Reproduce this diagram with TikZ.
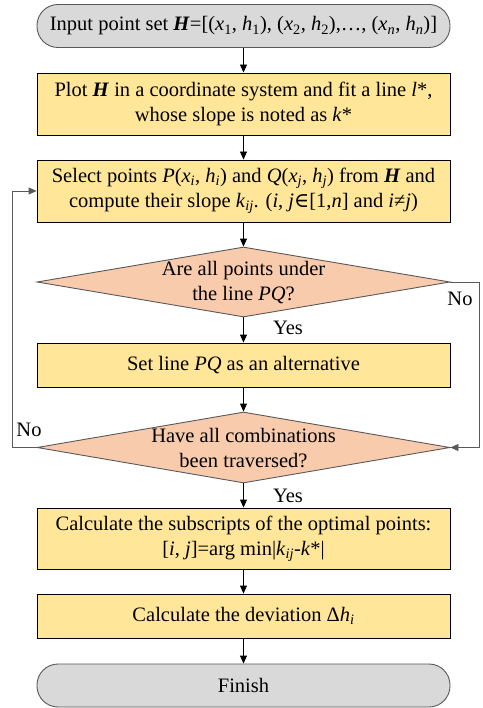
\documentclass[tikz,border=0pt]{standalone}
\usepackage{fontspec}
\setmainfont{Liberation Serif}
\newfontfamily\symfont{DejaVu Serif}
\usetikzlibrary{shapes.geometric,arrows.meta}
\definecolor{boxyellow}{HTML}{FFE699}
\definecolor{diapeach}{HTML}{F8CBAD}
\definecolor{termgray}{HTML}{D9D9D9}
\definecolor{edgegray}{HTML}{595959}
\newcommand{\bi}[1]{\textbf{\textit{#1}}}
\newcommand{\sbi}[1]{\textsubscript{\textit{#1}}}
\begin{document}
\begin{tikzpicture}[x=1pt,y=-1pt,
  font=\fontsize{20.5}{25}\selectfont,
  box/.style={draw=black, fill=boxyellow, minimum width=413pt, inner sep=0pt, align=center, line width=0.9pt},
  term/.style={draw=edgegray, fill=termgray, minimum width=413pt, minimum height=43pt, rounded corners=21pt, inner sep=0pt, align=center, line width=0.9pt},
  dia/.style={diamond, draw=edgegray, fill=diapeach, minimum width=413pt, inner sep=0pt, line width=0.9pt},
  txt/.style={align=center, inner sep=0pt},
  arr/.style={-{Triangle[length=8pt,width=7pt]}, line width=0.9pt},
  lbl/.style={inner sep=0pt}
]
\useasboundingbox (0,0) rectangle (482,708);

\node[term] (t1) at (243.5,26) {Input point set \bi{H}=[(\textit{x}\textsubscript{1}, \textit{h}\textsubscript{1}), (\textit{x}\textsubscript{2}, \textit{h}\textsubscript{2}),…, (\textit{x}\sbi{n}, \textit{h}\sbi{n})]};
\node[box, minimum height=62pt] (b2) at (243.5,104) {Plot \bi{H} in a coordinate system and fit a line \textit{l}*,\\ whose slope is noted as \textit{k}*};
\node[box, minimum height=62pt] (b3) at (243.5,191) {Select points \textit{P}(\textit{x}\sbi{i}, \textit{h}\sbi{i}) and \textit{Q}(\textit{x}\sbi{j}, \textit{h}\sbi{j}) from \bi{H} and\\ compute their slope \textit{k}\sbi{ij}. (\textit{i}, \textit{j}{\symfont ∈}[1,\textit{n}] and \textit{i}≠\textit{j})};
\node[dia, minimum height=70pt] (d1) at (243.5,282) {};
\node[txt] (d1t) at (243.5,283) {Are all points under\\ the line \textit{PQ}?};
\node[box, minimum height=44pt] (b4) at (243.5,365) {Set line \textit{PQ} as an alternative};
\node[dia, minimum height=71pt] (d2) at (243.5,447.5) {};
\node[txt] (d2t) at (243.5,448.5) {Have all combinations\\ been traversed?};
\node[box, minimum height=61pt] (b5) at (243.5,538.5) {Calculate the subscripts of the optimal points:\\ {[}\textit{i}, \textit{j}]=arg min|\textit{k}\sbi{ij}-\textit{k}*|};
\node[box, minimum height=44pt] (b6) at (243.5,616) {Calculate the deviation Δ\textit{h}\sbi{i}};
\node[term] (t2) at (243.5,685.5) {Finish};

\coordinate (rt) at (479,282);
\coordinate (lf) at (12,447.5);

\draw[arr] (t1) -- (b2);
\draw[arr] (b2) -- (b3);
\draw[arr] (b3) -- (d1);
\draw[arr] (d1) -- (b4);
\draw[arr] (b4) -- (d2);
\draw[arr] (d2) -- (b5);
\draw[arr] (b5) -- (b6);
\draw[arr] (b6) -- (t2);
\draw[arr, draw=edgegray] (d1.east) -- (rt) |- (d2.east);
\draw[arr, draw=edgegray] (d2.west) -- (lf) |- (b3.west);

\node[lbl] (y1) at (288,328) {Yes};
\node[lbl] (y2) at (288,496) {Yes};
\node[lbl] (n1) at (460,299) {No};
\node[lbl] (n2) at (29,430) {No};
\end{tikzpicture}
\end{document}
